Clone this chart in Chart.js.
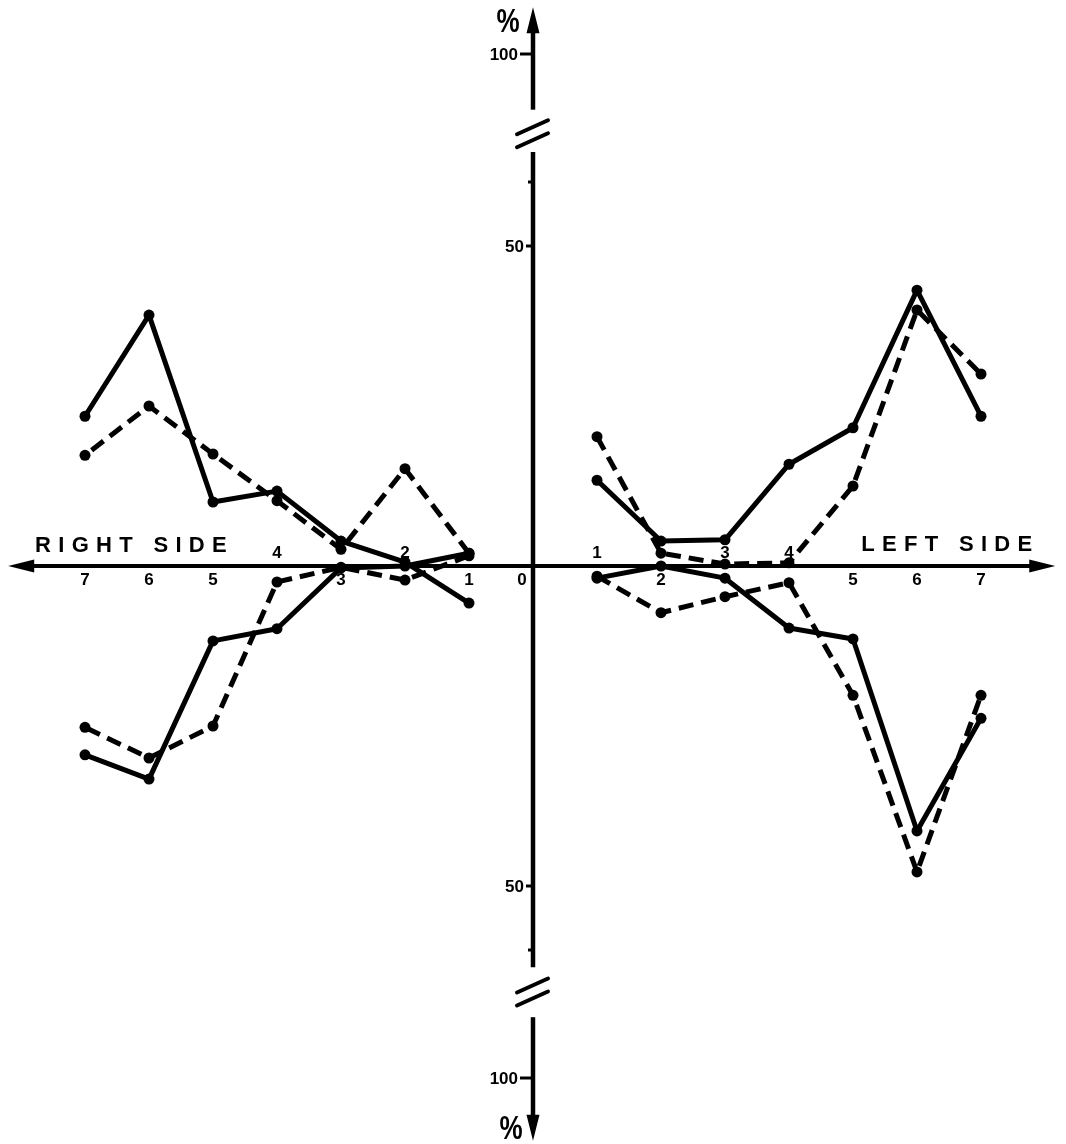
<!DOCTYPE html>
<html>
<head>
<meta charset="utf-8">
<script src="https://cdn.jsdelivr.net/npm/chart.js@4/dist/chart.umd.min.js"></script>
<style>
  html, body { margin: 0; padding: 0; background: #fff; }
  #wrap { width: 1066px; height: 1144px; }
</style>
</head>
<body>
<div id="wrap"><canvas id="c" width="1066" height="1144"></canvas></div>
<script>
// Measurement positions along each side, counted outward from the midline
const positions = [1, 2, 3, 4, 5, 6, 7];

// Right side (drawn to the left of the vertical axis), % upward
const rightUpperSolid  = [-5.8, 0.6, 3.9, 11.7, 10.0, 39.2, 23.4];
const rightUpperDashed = [2.0, 15.2, 2.6, 10.2, 17.5, 25.0, 17.3];
// Right side, % downward
const rightLowerSolid  = [-2.0, 0.0, 0.3, 9.8, 11.7, 33.3, 29.5];
const rightLowerDashed = [-1.6, 2.2, 0.2, 2.5, 25.0, 30.0, 25.2];

// Left side (drawn to the right of the vertical axis), % upward
const leftUpperSolid  = [13.4, 3.9, 4.1, 15.9, 21.6, 43.1, 23.4];
const leftUpperDashed = [20.2, 2.0, 0.3, 0.5, 12.5, 40.0, 30.0];
// Left side, % downward
const leftLowerSolid  = [1.9, 0.0, 1.9, 9.7, 11.4, 41.4, 23.8];
const leftLowerDashed = [1.6, 7.3, 4.8, 2.6, 20.2, 47.8, 20.2];

// Axis labelling
const xTickLabels = ['1', '2', '3', '4', '5', '6', '7'];
const yTickValues = [50, 100];
const sideTitles = ['RIGHT SIDE', 'LEFT SIDE'];
// Position numbers whose label sits above the baseline (signed: negative = right side)
const raisedTicks = [-4, -2, 1, 3, 4];

// The percentage axis is broken between 60 and 100; above 60 it is compressed
const toScale = p => (Math.abs(p) <= 60 ? p : Math.sign(p) * (60 + (Math.abs(p) - 60) / 2));

function series(values, side, dir, dashed) {
  return {
    data: positions.map((p, i) => ({ x: side * p, y: dir * values[i] })),
    showLine: true,
    borderColor: '#000',
    backgroundColor: '#000',
    borderWidth: 5,
    borderDash: dashed ? [15, 8] : [],
    borderCapStyle: 'butt',
    borderJoinStyle: 'round',
    pointRadius: 5.5,
    pointHoverRadius: 5.5,
    pointBackgroundColor: '#000',
    pointBorderWidth: 0,
    tension: 0,
    clip: false
  };
}

const FONT = "'Liberation Sans', Arial, Helvetica, sans-serif";

const crossAxes = {
  id: 'crossAxes',
  beforeDatasetsDraw(chart) {
    const { ctx, scales: { x, y } } = chart;
    const X = v => x.getPixelForValue(v);
    const Y = v => y.getPixelForValue(v);
    const x0 = X(0), y0 = Y(0);

    ctx.save();
    ctx.strokeStyle = '#000';
    ctx.fillStyle = '#000';
    ctx.lineCap = 'butt';

    const seg = (ax, ay, bx, by, w) => {
      ctx.lineWidth = w;
      ctx.beginPath(); ctx.moveTo(ax, ay); ctx.lineTo(bx, by); ctx.stroke();
    };
    const head = (tx, ty, dx, dy) => {
      // arrowhead with its tip at (tx, ty), pointing along (dx, dy)
      const len = 26, half = 6.5;
      const bx = tx - dx * len, by = ty - dy * len;
      ctx.beginPath();
      ctx.moveTo(tx, ty);
      ctx.lineTo(bx - dy * half, by + dx * half);
      ctx.lineTo(bx + dy * half, by - dx * half);
      ctx.closePath();
      ctx.fill();
    };

    // horizontal axis, arrow at both ends
    const xl = X(-8.2), xr = X(8.16);
    seg(xl + 20, y0, xr - 20, y0, 4);
    head(xl, y0, -1, 0);
    head(xr, y0, 1, 0);

    // vertical axis in three pieces around the two breaks
    const yTop = Y(87.3), yBot = Y(-89.8);
    seg(x0, yTop + 20, x0, Y(71.3), 4.5);
    seg(x0, Y(64.7), x0, Y(-62.7), 4.5);
    seg(x0, Y(-70.5), x0, yBot - 20, 4.5);
    head(x0, yTop, 0, -1);
    head(x0, yBot, 0, 1);

    // break marks
    const brk = (cy) => {
      ctx.lineCap = 'round';
      seg(x0 - 16, cy - 1, x0 + 15, cy - 15, 4);
      seg(x0 - 16, cy + 12, x0 + 15, cy - 2, 4);
      ctx.lineCap = 'butt';
    };
    brk(Y(67.3));
    brk(Y(-66.8));

    // percentage ticks and labels
    ctx.font = `bold 17px ${FONT}`;
    ctx.textBaseline = 'middle';
    ctx.textAlign = 'right';
    yTickValues.forEach(p => {
      const len = p >= 100 ? 13 : 7;
      [1, -1].forEach(s => {
        const ty = Y(toScale(s * p));
        seg(x0 - len, ty, x0, ty, 3);
        ctx.fillText(String(p), x0 - len - 2, ty + 1);
      });
    });
    // unlabelled ticks just below the breaks
    [60, -60].forEach(p => seg(x0 - 5, Y(p), x0, Y(p), 3));

    // % markers at the ends of the vertical axis
    ctx.textAlign = 'center';
    ctx.font = `bold 26px ${FONT}`;
    [[Y(85.1), -25], [Y(-87.8), -22]].forEach(([ty, dx]) => {
      ctx.save();
      ctx.translate(x0 + dx, ty);
      ctx.scale(1, 1.3);
      ctx.fillText('%', 0, 1);
      ctx.restore();
    });

    // position numbers along the horizontal axis
    ctx.font = `bold 17px ${FONT}`;
    positions.forEach((p, i) => {
      [-1, 1].forEach(side => {
        const v = side * p;
        const above = raisedTicks.includes(v);
        ctx.fillText(xTickLabels[i], X(v), above ? y0 - 13 : y0 + 14);
      });
    });
    ctx.fillText('0', x0 - 11, y0 + 14);

    // side titles with wide letter spacing
    ctx.font = `bold 22px ${FONT}`;
    ctx.textAlign = 'left';
    const spaced = (text, left, cy, gap) => {
      let cx = left;
      for (const ch of text) {
        ctx.fillText(ch, cx, cy);
        cx += ctx.measureText(ch).width + gap;
      }
    };
    const spacedWidth = (text, gap) => {
      let w = 0;
      for (const ch of text) w += ctx.measureText(ch).width + gap;
      return w - gap;
    };
    const gap = 7.3;
    spaced(sideTitles[0], X(-7.78), y0 - 20, gap);
    spaced(sideTitles[1], X(7.8) - spacedWidth(sideTitles[1], gap), y0 - 21, gap);

    ctx.restore();
  }
};

new Chart(document.getElementById('c'), {
  type: 'scatter',
  data: {
    datasets: [
      series(rightUpperSolid, -1, 1, false),
      series(rightUpperDashed, -1, 1, true),
      series(rightLowerSolid, -1, -1, false),
      series(rightLowerDashed, -1, -1, true),
      series(leftUpperSolid, 1, 1, false),
      series(leftUpperDashed, 1, 1, true),
      series(leftLowerSolid, 1, -1, false),
      series(leftLowerDashed, 1, -1, true)
    ]
  },
  options: {
    responsive: false,
    animation: false,
    devicePixelRatio: 1,
    layout: { padding: 0, autoPadding: false },
    plugins: { legend: { display: false }, tooltip: { enabled: false } },
    events: [],
    scales: {
      x: { type: 'linear', min: -533 / 64, max: 533 / 64, display: false },
      y: { type: 'linear', min: -578 / 6.4, max: 566 / 6.4, display: false }
    }
  },
  plugins: [crossAxes]
});
</script>
</body>
</html>
